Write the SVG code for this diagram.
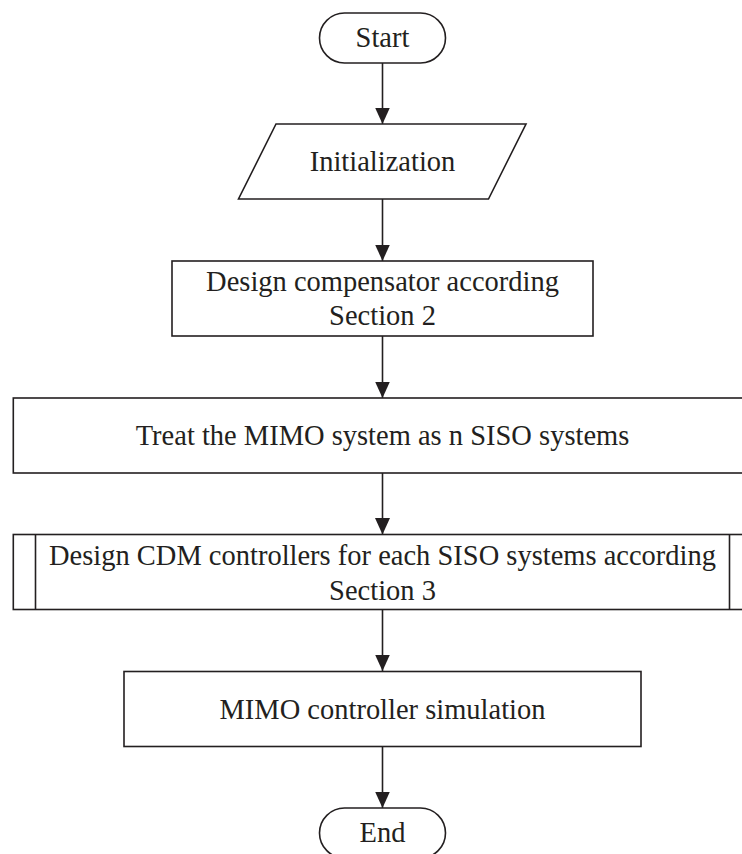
<svg xmlns="http://www.w3.org/2000/svg" width="742" height="854" viewBox="0 0 742 854">
<style>
.shape{fill:#ffffff;stroke:#231f20;stroke-width:1.6}
.line{fill:none;stroke:#231f20;stroke-width:1.6}
.lbl{font-family:"Liberation Serif","Times New Roman",serif;font-size:30px;fill:#231f20;text-anchor:middle}
</style>
<defs>
<marker id="arrow" markerUnits="userSpaceOnUse" markerWidth="16" markerHeight="18" refX="16.5" refY="7.5" orient="auto">
<path d="M0,0 L16.5,7.5 L0,15 Z" fill="#231f20"/>
</marker>
</defs>
<rect width="742" height="854" fill="#ffffff"/>
<g id="connectors">
<line class="line" x1="382.5" y1="63" x2="382.5" y2="124" marker-end="url(#arrow)"/>
<line class="line" x1="382.5" y1="199" x2="382.5" y2="261" marker-end="url(#arrow)"/>
<line class="line" x1="382.5" y1="336" x2="382.5" y2="398" marker-end="url(#arrow)"/>
<line class="line" x1="382.5" y1="473" x2="382.5" y2="534.5" marker-end="url(#arrow)"/>
<line class="line" x1="382.5" y1="609.5" x2="382.5" y2="671" marker-end="url(#arrow)"/>
<line class="line" x1="382.5" y1="746.5" x2="382.5" y2="808" marker-end="url(#arrow)"/>
</g>
<g id="start">
<rect class="shape" x="319.5" y="13" width="126" height="50" rx="25" ry="25"/>
<text class="lbl" transform="translate(382.5 47) scale(0.95 1)">Start</text>
</g>
<g id="init">
<polygon class="shape" points="276,124 526,124 488.5,199 238.5,199"/>
<text class="lbl" transform="translate(382.5 171) scale(0.95 1)">Initialization</text>
</g>
<g id="compensator">
<rect class="shape" x="172" y="261" width="421" height="75"/>
<text class="lbl" transform="translate(382.5 290.5) scale(0.95 1)">Design compensator according</text>
<text class="lbl" transform="translate(382.5 325) scale(0.95 1)">Section 2</text>
</g>
<g id="treat">
<rect class="shape" x="13.3" y="398" width="738.5" height="75"/>
<text class="lbl" transform="translate(382.5 445) scale(0.95 1)">Treat the MIMO system as n SISO systems</text>
</g>
<g id="cdm">
<rect class="shape" x="13.3" y="534.5" width="738.5" height="75"/>
<line class="line" x1="35.5" y1="534.5" x2="35.5" y2="609.5"/>
<line class="line" x1="729.5" y1="534.5" x2="729.5" y2="609.5"/>
<text class="lbl" transform="translate(382.5 565) scale(0.95 1)">Design CDM controllers for each SISO systems according</text>
<text class="lbl" transform="translate(382.5 599.5) scale(0.95 1)">Section 3</text>
</g>
<g id="simulation">
<rect class="shape" x="124" y="671.5" width="517" height="75"/>
<text class="lbl" transform="translate(382.5 718.5) scale(0.95 1)">MIMO controller simulation</text>
</g>
<g id="end">
<rect class="shape" x="319.5" y="808" width="126" height="50" rx="25" ry="25"/>
<text class="lbl" transform="translate(382.5 842) scale(0.95 1)">End</text>
</g>
</svg>
